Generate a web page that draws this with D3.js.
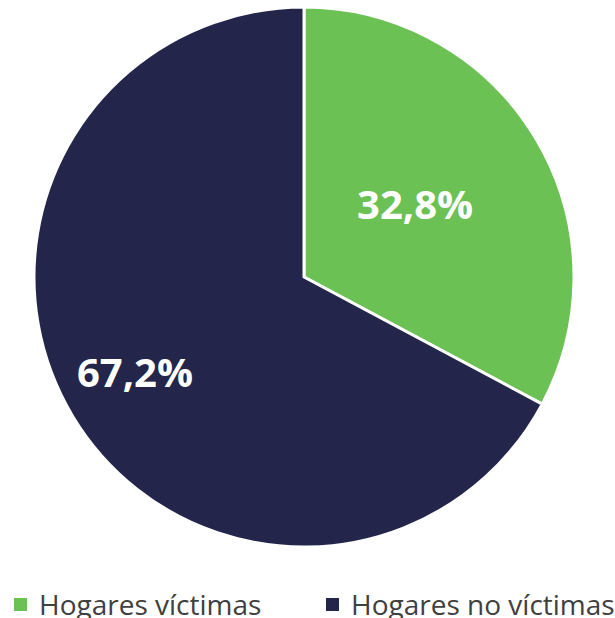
<!DOCTYPE html>
<html>
<head>
<meta charset="utf-8">
<script src="https://cdn.jsdelivr.net/npm/d3@7"></script>
<style>
  html, body { margin: 0; padding: 0; background: #fff; }
  svg { display: block; }
</style>
</head>
<body>
<svg id="chart" width="615" height="618"></svg>
<script>
// ── Data ──────────────────────────────────────────────────────────────────────
const categories = ['Hogares víctimas', 'Hogares no víctimas'];
const values     = [32.8, 67.2];
const labels     = ['32,8%', '67,2%'];
const colors     = ['#6cc155', '#23264a'];

// ── Layout ────────────────────────────────────────────────────────────────────
const W = 615, H = 618;
const cx = 304, cy = 277, R = 270;
const labelRadius = [0.48, 0.73];   // Excel-style "best fit" placement

const svg = d3.select('#chart');

const pie = d3.pie().sort(null).value(d => d.value);
const arc = d3.arc().innerRadius(0).outerRadius(R);

const data = pie(categories.map((c, i) => ({ name: c, value: values[i], i })));

const g = svg.append('g').attr('transform', `translate(${cx},${cy})`);

g.selectAll('path')
  .data(data)
  .join('path')
  .attr('d', arc)
  .attr('fill', d => colors[d.data.i])
  .attr('stroke', '#fff')
  .attr('stroke-width', 3)
  .attr('stroke-linejoin', 'round');

g.selectAll('text.lbl')
  .data(data)
  .join('text')
  .attr('class', 'lbl')
  .attr('transform', d => {
    const r = R * labelRadius[d.data.i];
    const c = d3.arc().innerRadius(r).outerRadius(r).centroid(d);
    return `translate(${c[0]},${c[1]})`;
  })
  .attr('text-anchor', 'middle')
  .attr('dy', '0.22em')
  .attr('font-family', 'Open Sans, Noto Sans, sans-serif')
  .attr('font-weight', 700)
  .attr('font-size', 40)
  .attr('fill', '#fff')
  .text(d => labels[d.data.i]);

// ── Legend ────────────────────────────────────────────────────────────────────
const legendX = [14, 326];
const legend = svg.append('g');

const item = legend.selectAll('g')
  .data(categories)
  .join('g')
  .attr('transform', (d, i) => `translate(${legendX[i]},598)`);

item.append('rect')
  .attr('width', 13).attr('height', 13)
  .attr('fill', (d, i) => colors[i]);

item.append('text')
  .attr('x', 25).attr('y', 17)
  .attr('font-family', 'Open Sans, Noto Sans, sans-serif')
  .attr('font-size', 28)
  .attr('fill', '#404040')
  .text(d => d);
</script>
</body>
</html>
